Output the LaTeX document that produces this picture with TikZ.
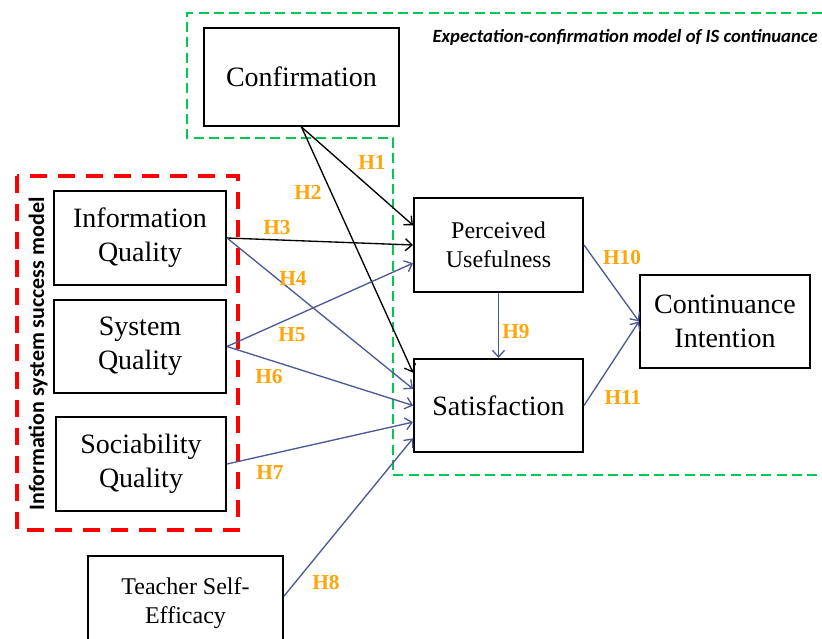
\documentclass[tikz,border=0pt]{standalone}
\usepackage{fontspec}
\setmainfont{Liberation Serif}
\newfontfamily\timesfont{Liberation Serif}
\newfontfamily\calibri{Carlito}
\usetikzlibrary{arrows.meta}

\definecolor{ectgreen}{RGB}{0,200,80}
\definecolor{issred}{RGB}{255,0,0}
\definecolor{hypblue}{RGB}{79,88,150}
\definecolor{hyporange}{RGB}{255,165,10}

\begin{document}
\begin{tikzpicture}[x=0.75pt,y=0.75pt,yscale=-1,xscale=1,
  factor/.style 2 args={draw, line width=1.5pt, align=center, inner sep=0pt,
    minimum width=#1*0.75pt, minimum height=#2*0.75pt},
  bigtext/.style={font=\timesfont\fontsize{21}{25.5}\selectfont},
  smalltext/.style={font=\timesfont\fontsize{18}{22}\selectfont},
  link/.style={line width=1pt, -{Straight Barb[length=5pt,width=9pt]}},
  hyp/.style={text=hyporange, inner sep=0.75pt, font=\timesfont\fontsize{16}{18}\selectfont\bfseries}]
\useasboundingbox (0,0) rectangle (822,639);

%Shape: ECT region
\draw [ectgreen, line width=2pt, dash pattern=on 7.5pt off 4pt] (822,13) -- (187,13) -- (187,138) -- (393,138) -- (393,475) -- (822,475) ;
%Shape: IS success region
\draw [issred, line width=3pt, dash pattern=on 13pt off 8pt] (17,176) rectangle (238,530) ;

% Text Node
\node (ecttitle) [anchor=east, inner sep=0pt, font=\calibri\fontsize{14}{16}\selectfont\bfseries\itshape] at (818,37) {Expectation-confirmation model of IS continuance};
% Text Node
\node (isstitle) [rotate=90, inner sep=0pt, font=\calibri\fontsize{16.5}{18}\selectfont\bfseries] at (38,354) {Information system success model};

%Shapes: factors
\node (conf) [factor={195}{98}, bigtext] at (301.5,77) {Confirmation};
\node (infq) [factor={172}{94}, bigtext] at (140,238) {Information\\Quality};
\node (sysq) [factor={172}{93}, bigtext] at (140,346.5) {System\\Quality};
\node (socq) [factor={170}{94}, bigtext] at (141,464) {Sociability\\Quality};
\node (tse) [factor={195}{94}, smalltext] at (185.5,603) {Teacher Self-\\Efficacy};
\node (pu) [factor={169}{94}, smalltext] at (498.5,245) {Perceived\\Usefulness};
\node (sat) [factor={169}{93}, bigtext] at (498.5,405.5) {Satisfaction};
\node (ci) [factor={170}{93}, bigtext] at (725,321.5) {Continuance\\Intention};

%Straight Lines: hypotheses
\draw [link] (conf.south) -- (pu.167) ;
\draw [link] (conf.south) -- (sat.159) ;
\draw [link] (infq.east) -- (pu.west) ;
\draw [link, hypblue] (infq.east) -- (sat.169) ;
\draw [link, hypblue] (sysq.east) -- (pu.192) ;
\draw [link, hypblue] (sysq.east) -- (sat.west) ;
\draw [link, hypblue] (socq.east) -- (sat.191) ;
\draw [link, hypblue] (tse.4) -- (sat.201) ;
\draw [link, hypblue] (pu.south) -- (sat.north) ;
\draw [link, hypblue] (pu.east) -- (ci.west) ;
\draw [link, hypblue] (sat.east) -- (ci.west) ;

% Text Node
\node (h1) [hyp] at (372,162) {H1};
% Text Node
\node (h2) [hyp] at (308,192) {H2};
% Text Node
\node (h3) [hyp] at (277,228) {H3};
% Text Node
\node (h4) [hyp] at (293,278) {H4};
% Text Node
\node (h5) [hyp] at (292,335) {H5};
% Text Node
\node (h6) [hyp] at (269,377) {H6};
% Text Node
\node (h7) [hyp] at (270,473) {H7};
% Text Node
\node (h8) [hyp] at (326,583) {H8};
% Text Node
\node (h9) [hyp] at (516,332) {H9};
% Text Node
\node (h10) [hyp] at (622,258) {H10};
% Text Node
\node (h11) [hyp] at (623,397) {H11};

\end{tikzpicture}
\end{document}
